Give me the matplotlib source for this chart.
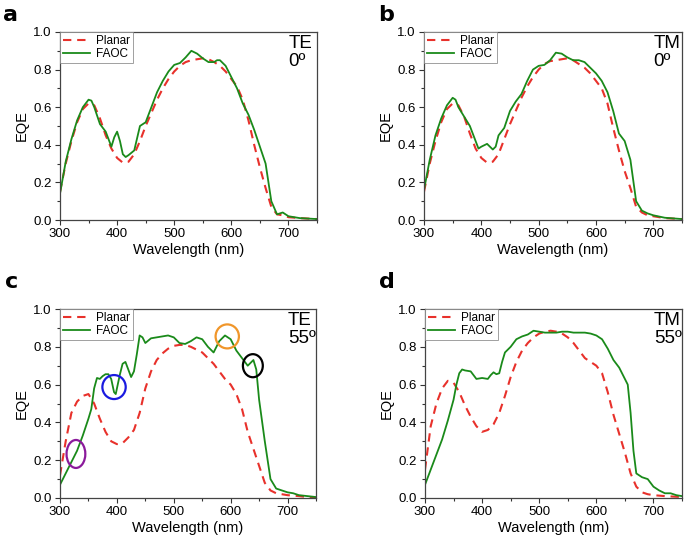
import matplotlib
matplotlib.use("Agg")
import matplotlib.pyplot as plt
from matplotlib.patches import Ellipse
from matplotlib.ticker import MultipleLocator

plt.rcParams['font.family'] = ['Liberation Sans', 'DejaVu Sans']

# ---- panel a: TE 0 deg ----
wl_a_planar = [300, 310, 320, 330, 340, 350, 360, 370, 380, 390, 400, 410, 420, 430, 440, 450,
               460, 470, 480, 490, 500, 510, 520, 530, 540, 550, 560, 570, 580, 590, 600, 610,
               620, 630, 640, 650, 660, 670, 680, 690, 700, 720, 750]
eqe_a_planar = [0.15, 0.30, 0.42, 0.52, 0.59, 0.62, 0.61, 0.54, 0.45, 0.38, 0.33, 0.305, 0.31, 0.35,
                0.42, 0.50, 0.57, 0.64, 0.70, 0.75, 0.79, 0.82, 0.84, 0.85, 0.855, 0.86, 0.855,
                0.84, 0.82, 0.79, 0.75, 0.71, 0.64, 0.53, 0.40, 0.28, 0.17, 0.07, 0.03, 0.025,
                0.015, 0.01, 0.005]
wl_a_faoc = [300, 310, 320, 330, 340, 350, 355, 360, 370, 380, 385, 390, 395, 400, 405, 410, 415,
             420, 430, 440, 450, 460, 470, 480, 490, 500, 510, 520, 530, 540, 550, 560, 570, 575,
             580, 590, 600, 610, 620, 630, 640, 650, 660, 670, 680, 690, 700, 720, 750]
eqe_a_faoc = [0.14, 0.31, 0.43, 0.53, 0.60, 0.64, 0.635, 0.60, 0.51, 0.47, 0.43, 0.39, 0.44, 0.47,
              0.42, 0.35, 0.335, 0.345, 0.37, 0.50, 0.52, 0.60, 0.68, 0.74, 0.79, 0.825, 0.835,
              0.865, 0.90, 0.885, 0.86, 0.84, 0.84, 0.85, 0.85, 0.82, 0.76, 0.70, 0.62, 0.56,
              0.48, 0.39, 0.30, 0.10, 0.03, 0.04, 0.02, 0.01, 0.005]

# ---- panel b: TM 0 deg ----
wl_b_planar = wl_a_planar
eqe_b_planar = [0.15, 0.30, 0.42, 0.52, 0.59, 0.62, 0.61, 0.55, 0.46, 0.38, 0.33, 0.305, 0.31, 0.35,
                0.43, 0.51, 0.58, 0.65, 0.71, 0.76, 0.80, 0.83, 0.845, 0.85, 0.855, 0.86, 0.85,
                0.83, 0.81, 0.78, 0.74, 0.70, 0.62, 0.49, 0.37, 0.26, 0.17, 0.07, 0.04, 0.025,
                0.02, 0.01, 0.005]
wl_b_faoc = [300, 310, 320, 330, 340, 350, 355, 360, 370, 380, 390, 395, 400, 410, 420, 425, 430,
             440, 450, 460, 470, 480, 490, 500, 510, 520, 530, 540, 550, 560, 570, 580, 590, 600,
             610, 620, 630, 640, 650, 660, 670, 680, 690, 700, 720, 750]
eqe_b_faoc = [0.16, 0.32, 0.45, 0.54, 0.61, 0.65, 0.64, 0.60, 0.55, 0.50, 0.42, 0.38, 0.39, 0.405,
              0.375, 0.39, 0.45, 0.49, 0.58, 0.63, 0.67, 0.74, 0.80, 0.82, 0.825, 0.85, 0.89,
              0.885, 0.865, 0.85, 0.85, 0.84, 0.81, 0.78, 0.74, 0.68, 0.58, 0.46, 0.42, 0.32,
              0.10, 0.05, 0.035, 0.025, 0.012, 0.005]

# ---- panel c: TE 55 deg ----
wl_c_planar = wl_a_planar
eqe_c_planar = [0.12, 0.30, 0.45, 0.51, 0.54, 0.55, 0.50, 0.42, 0.35, 0.30, 0.285, 0.29, 0.32, 0.36,
                0.45, 0.58, 0.67, 0.73, 0.765, 0.79, 0.805, 0.81, 0.81, 0.80, 0.785, 0.77, 0.74,
                0.71, 0.67, 0.63, 0.60, 0.55, 0.47, 0.35, 0.26, 0.17, 0.08, 0.04, 0.025, 0.02,
                0.015, 0.01, 0.0]
wl_c_faoc = [300, 310, 320, 330, 340, 350, 355, 360, 365, 370, 375, 380, 385, 390, 395, 398, 405,
             410, 415, 420, 425, 430, 435, 440, 445, 450, 460, 470, 480, 490, 500, 510, 520, 530,
             540, 550, 560, 570, 580, 590, 600, 610, 620, 630, 640, 645, 650, 660, 670, 680, 690,
             700, 710, 720, 750]
eqe_c_faoc = [0.07, 0.13, 0.19, 0.25, 0.33, 0.42, 0.47, 0.58, 0.635, 0.63, 0.645, 0.655, 0.655,
              0.63, 0.56, 0.55, 0.65, 0.71, 0.72, 0.68, 0.64, 0.67, 0.76, 0.86, 0.85, 0.82, 0.845,
              0.85, 0.855, 0.86, 0.85, 0.82, 0.815, 0.83, 0.85, 0.84, 0.80, 0.77, 0.83, 0.86,
              0.84, 0.78, 0.74, 0.70, 0.73, 0.68, 0.52, 0.30, 0.10, 0.05, 0.04, 0.03, 0.025,
              0.015, 0.005]

# ---- panel d: TM 55 deg ----
wl_d_planar = wl_a_planar
eqe_d_planar = [0.15, 0.38, 0.50, 0.58, 0.62, 0.61, 0.56, 0.49, 0.43, 0.38, 0.35, 0.36, 0.39, 0.45,
                0.54, 0.64, 0.72, 0.78, 0.82, 0.85, 0.87, 0.88, 0.885, 0.88, 0.87, 0.85, 0.82,
                0.78, 0.74, 0.72, 0.70, 0.66, 0.56, 0.44, 0.34, 0.24, 0.13, 0.06, 0.03, 0.02,
                0.015, 0.01, 0.005]
wl_d_faoc = [300, 310, 320, 330, 340, 350, 355, 360, 365, 370, 380, 390, 400, 410, 415, 420, 425,
             430, 435, 440, 450, 460, 470, 480, 490, 500, 510, 520, 530, 540, 550, 560, 570, 580,
             590, 600, 610, 620, 630, 640, 650, 655, 660, 665, 670, 680, 690, 700, 710, 720, 730,
             740, 750]
eqe_d_faoc = [0.07, 0.15, 0.23, 0.31, 0.41, 0.52, 0.60, 0.66, 0.68, 0.675, 0.67, 0.63, 0.635, 0.63,
              0.65, 0.665, 0.655, 0.66, 0.72, 0.77, 0.80, 0.84, 0.855, 0.865, 0.885, 0.88, 0.875,
              0.875, 0.875, 0.88, 0.88, 0.875, 0.875, 0.875, 0.87, 0.86, 0.84, 0.79, 0.73, 0.69,
              0.63, 0.60, 0.45, 0.25, 0.13, 0.11, 0.10, 0.06, 0.04, 0.025, 0.025, 0.015, 0.01]

# highlighted features in panel c: centre wavelength, centre EQE, width (nm), height, colour
circ_x = [328, 395, 594, 639]
circ_y = [0.233, 0.587, 0.855, 0.70]
circ_w = [33, 41, 41, 35]
circ_h = [0.148, 0.127, 0.127, 0.122]
circ_c = ['#8b1a9b', '#1a1ae0', '#f0962a', 'black']

panels = [
    ("a", "TE\n0º", wl_a_planar, eqe_a_planar, wl_a_faoc, eqe_a_faoc),
    ("b", "TM\n0º", wl_b_planar, eqe_b_planar, wl_b_faoc, eqe_b_faoc),
    ("c", "TE\n55º", wl_c_planar, eqe_c_planar, wl_c_faoc, eqe_c_faoc),
    ("d", "TM\n55º", wl_d_planar, eqe_d_planar, wl_d_faoc, eqe_d_faoc),
]

# axes boxes in pixels: left, top, right, bottom
W, H = 685, 542
boxes = [(60, 32, 317, 220), (424, 32, 682, 220), (60, 309, 316, 498), (425, 309, 682, 498)]
label_pos = [(3, 21), (378, 21), (5, 288), (379, 288)]

fig = plt.figure(figsize=(6.85, 5.42), dpi=100)

for (letter, corner, wp, ep, wf, ef), (l, t, r, b), (lx, ly) in zip(panels, boxes, label_pos):
    ax = fig.add_axes([l / W, 1 - b / H, (r - l) / W, (b - t) / H])
    ax.plot(wp, ep, color='#e8312b', lw=1.5, dashes=(4, 2.8), label='Planar')
    ax.plot(wf, ef, color='#1a8a1a', lw=1.3, label='FAOC')
    ax.set_xlim(300, 750)
    ax.set_ylim(0, 1.0)
    ax.xaxis.set_major_locator(MultipleLocator(100))
    ax.xaxis.set_minor_locator(MultipleLocator(50))
    ax.yaxis.set_major_locator(MultipleLocator(0.2))
    ax.yaxis.set_minor_locator(MultipleLocator(0.1))
    ax.yaxis.set_major_formatter(plt.FormatStrFormatter('%.1f'))
    ax.tick_params(which='both', direction='out', labelsize=9.5, colors='#333333',
                   labelcolor='black', pad=2.5)
    ax.tick_params(which='major', length=3.5, width=0.8)
    ax.tick_params(which='minor', length=2, width=0.8)
    for s in ax.spines.values():
        s.set_color('#444444')
        s.set_linewidth(0.9)
    ax.set_xlabel('Wavelength (nm)', fontsize=10.5, labelpad=2)
    ax.set_ylabel('EQE', fontsize=10.5, labelpad=3)
    leg = ax.legend(loc='upper left', fontsize=8.5, frameon=True, fancybox=False,
                    borderaxespad=0, handlelength=2.3, borderpad=0.25, labelspacing=0.1,
                    handletextpad=0.5)
    leg.get_frame().set_edgecolor('#888888')
    leg.get_frame().set_linewidth(0.7)
    ax.text(0.89, 0.985, corner, transform=ax.transAxes, ha='left', va='top',
            fontsize=13.5, linespacing=1.1)
    fig.text(lx / W, 1 - ly / H, letter, fontsize=16, fontweight='bold',
             family='DejaVu Sans', va='baseline', ha='left')

ax_c = fig.axes[2]
for cx, cy, cw, ch, cc in zip(circ_x, circ_y, circ_w, circ_h, circ_c):
    ax_c.add_patch(Ellipse((cx, cy), cw, ch, fill=False, edgecolor=cc, lw=1.6, zorder=5))

fig.savefig('out.png', dpi=100)
